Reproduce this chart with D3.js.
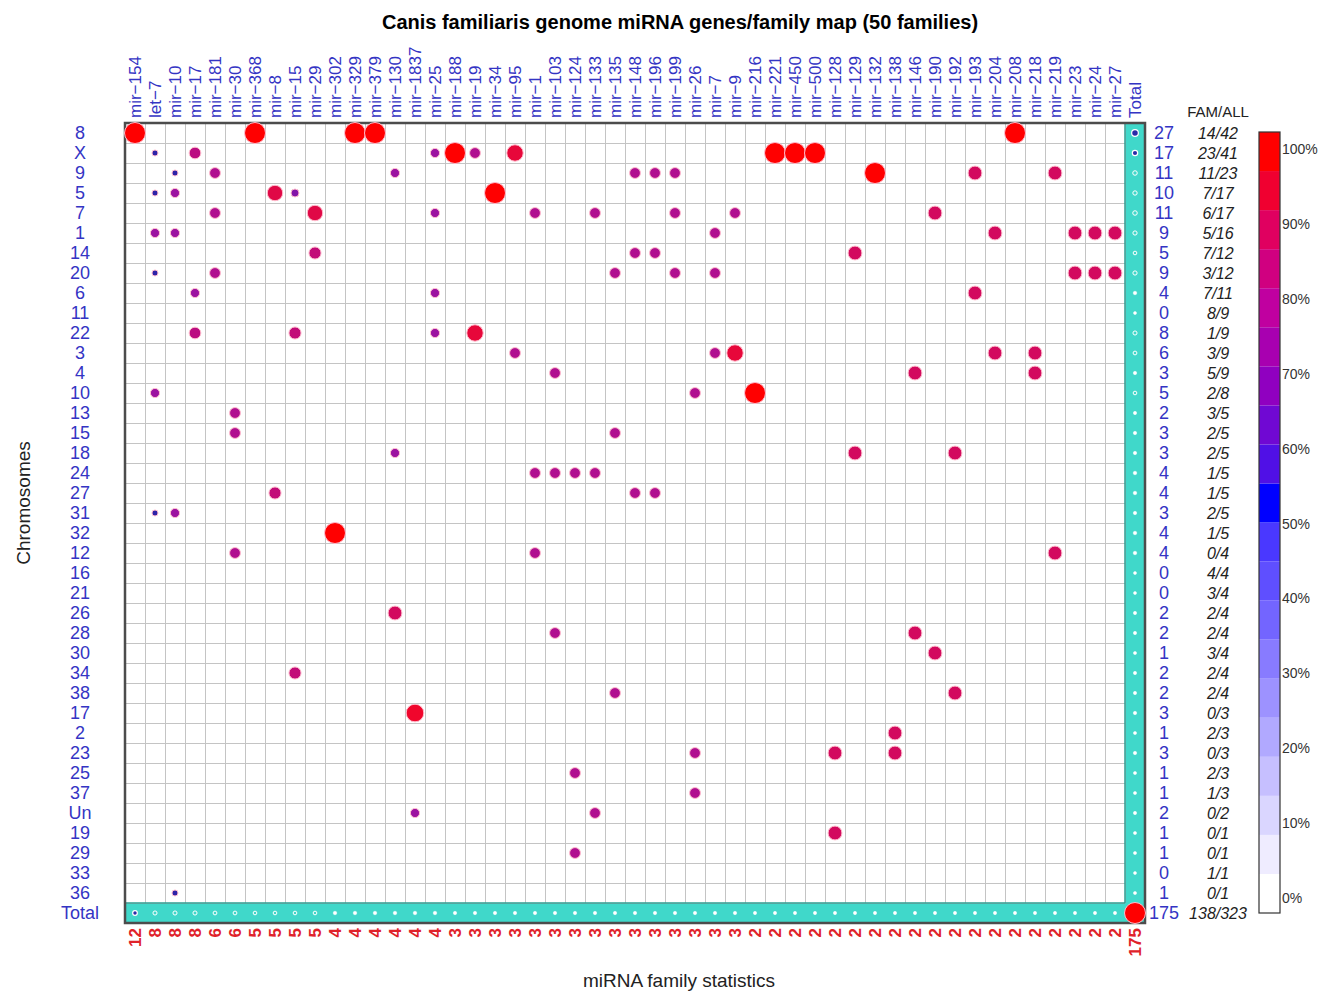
<!DOCTYPE html>
<html>
<head>
<meta charset="utf-8">
<script src="https://cdn.jsdelivr.net/npm/d3@7"></script>
<style>
  body { margin: 0; background: #fff; }
  svg { font-family: "Liberation Sans", Arial, Helvetica, sans-serif; }
</style>
</head>
<body>
<svg id="map" width="1320" height="991"></svg>
<script>
const families = ["mir-154","let-7","mir-10","mir-17","mir-181","mir-30","mir-368","mir-8","mir-15","mir-29",
  "mir-302","mir-329","mir-379","mir-130","mir-1837","mir-25","mir-188","mir-19","mir-34","mir-95",
  "mir-1","mir-103","mir-124","mir-133","mir-135","mir-148","mir-196","mir-199","mir-26","mir-7",
  "mir-9","mir-216","mir-221","mir-450","mir-500","mir-128","mir-129","mir-132","mir-138","mir-146",
  "mir-190","mir-192","mir-193","mir-204","mir-208","mir-218","mir-219","mir-23","mir-24","mir-27"];
const familyTotals = [12,8,8,8,6,6,5,5,5,5, 4,4,4,4,4,4,3,3,3,3, 3,3,3,3,3,3,3,3,3,3,
  3,2,2,2,2,2,2,2,2,2, 2,2,2,2,2,2,2,2,2,2];

const chromosomes = ["8","X","9","5","7","1","14","20","6","11","22","3","4","10","13","15","18","24","27","31",
  "32","12","16","21","26","28","30","34","38","17","2","23","25","37","Un","19","29","33","36"];
const chromTotals = [27,17,11,10,11,9,5,9,4,0, 8,6,3,5,2,3,3,4,4,3, 4,4,0,0,2,2,1,2,2,3, 1,3,1,1,2,1,1,0,1];
const famAll = ["14/42","23/41","11/23","7/17","6/17","5/16","7/12","3/12","7/11","8/9",
  "1/9","3/9","5/9","2/8","3/5","2/5","2/5","1/5","1/5","2/5",
  "1/5","0/4","4/4","3/4","2/4","2/4","3/4","2/4","2/4","0/3",
  "2/3","0/3","2/3","1/3","0/2","0/1","0/1","1/1","0/1"];
const grandTotal = 175;
const grandFamAll = "138/323";

// [chromosome, family, genes]
const geneCounts = [
  ["8","mir-154",12],["8","mir-368",5],["8","mir-329",4],["8","mir-379",4],["8","mir-208",2],
  ["X","let-7",1],["X","mir-17",3],["X","mir-25",1],["X","mir-188",3],["X","mir-19",1],["X","mir-95",2],
  ["X","mir-221",2],["X","mir-450",2],["X","mir-500",2],
  ["9","mir-10",1],["9","mir-181",2],["9","mir-130",1],["9","mir-148",1],["9","mir-196",1],["9","mir-199",1],
  ["9","mir-132",2],["9","mir-193",1],["9","mir-219",1],
  ["5","let-7",1],["5","mir-10",2],["5","mir-8",3],["5","mir-15",1],["5","mir-34",3],
  ["7","mir-181",2],["7","mir-29",3],["7","mir-25",1],["7","mir-1",1],["7","mir-133",1],["7","mir-199",1],
  ["7","mir-9",1],["7","mir-190",1],
  ["1","let-7",2],["1","mir-10",2],["1","mir-7",1],["1","mir-204",1],["1","mir-23",1],["1","mir-24",1],["1","mir-27",1],
  ["14","mir-29",2],["14","mir-148",1],["14","mir-196",1],["14","mir-129",1],
  ["20","let-7",1],["20","mir-181",2],["20","mir-135",1],["20","mir-199",1],["20","mir-7",1],
  ["20","mir-23",1],["20","mir-24",1],["20","mir-27",1],
  ["6","mir-17",2],["6","mir-25",1],["6","mir-193",1],
  ["22","mir-17",3],["22","mir-15",2],["22","mir-25",1],["22","mir-19",2],
  ["3","mir-95",1],["3","mir-7",1],["3","mir-9",2],["3","mir-204",1],["3","mir-218",1],
  ["4","mir-103",1],["4","mir-146",1],["4","mir-218",1],
  ["10","let-7",2],["10","mir-26",1],["10","mir-216",2],
  ["13","mir-30",2],
  ["15","mir-30",2],["15","mir-135",1],
  ["18","mir-130",1],["18","mir-129",1],["18","mir-192",1],
  ["24","mir-1",1],["24","mir-103",1],["24","mir-124",1],["24","mir-133",1],
  ["27","mir-8",2],["27","mir-148",1],["27","mir-196",1],
  ["31","let-7",1],["31","mir-10",2],
  ["32","mir-302",4],
  ["12","mir-30",2],["12","mir-1",1],["12","mir-219",1],
  ["26","mir-130",2],
  ["28","mir-103",1],["28","mir-146",1],
  ["30","mir-190",1],
  ["34","mir-15",2],
  ["38","mir-135",1],["38","mir-192",1],
  ["17","mir-1837",3],
  ["2","mir-138",1],
  ["23","mir-26",1],["23","mir-128",1],["23","mir-138",1],
  ["25","mir-124",1],
  ["37","mir-26",1],
  ["Un","mir-1837",1],["Un","mir-133",1],
  ["19","mir-128",1],
  ["29","mir-124",1],
  ["36","mir-10",1]
];

const svg = d3.select("#map");
const labelBlue = "#3434c4";
const teal = "#40d8ca";

const x = d3.scaleBand().domain([...families, "Total"]).range([125, 1145]);
const y = d3.scaleBand().domain([...chromosomes, "Total"]).range([123, 923]);
const bw = x.bandwidth(), bh = y.bandwidth();

const famTotal = new Map(families.map((f, i) => [f, familyTotals[i]]));

const radius = d3.scalePow().exponent(0.6).domain([0, 1]).range([0, 10.5]);
const dotColor = d3.scaleLinear()
  .domain([0.125, 0.2, 0.25, 0.34, 0.4, 0.5, 0.6, 0.75, 1])
  .range(["#2e22a8", "#8214a8", "#9c12a0", "#b20e8e", "#c20c78", "#d20a5e", "#e00846", "#f0062c", "#ff0000"])
  .clamp(true);

// title
svg.append("text")
  .attr("x", 680).attr("y", 29)
  .attr("text-anchor", "middle")
  .attr("font-size", 20).attr("font-weight", "bold")
  .text("Canis familiaris genome miRNA genes/family map (50 families)");

// cells background
svg.append("rect")
  .attr("x", 125).attr("y", 123).attr("width", 1020).attr("height", 800)
  .attr("fill", "#fff");

svg.append("rect")
  .attr("x", x("Total")).attr("y", 123).attr("width", bw).attr("height", 800)
  .attr("fill", teal);
svg.append("rect")
  .attr("x", 125).attr("y", y("Total")).attr("width", 1020).attr("height", bh)
  .attr("fill", teal);

// grid
const grid = svg.append("g").attr("stroke", "#c4c4c4").attr("stroke-width", 1);
x.domain().slice(1).forEach(d => {
  grid.append("line").attr("x1", x(d) + 0.5).attr("x2", x(d) + 0.5).attr("y1", 123).attr("y2", y("Total"));
});
y.domain().slice(1).forEach(d => {
  grid.append("line").attr("y1", y(d) + 0.5).attr("y2", y(d) + 0.5).attr("x1", 125).attr("x2", x("Total"));
});
svg.append("line").attr("x1", x("Total")).attr("x2", x("Total")).attr("y1", 123).attr("y2", y("Total"))
  .attr("stroke", "#2c9c92").attr("stroke-width", 1.5);
svg.append("line").attr("x1", 125).attr("x2", x("Total")).attr("y1", y("Total")).attr("y2", y("Total"))
  .attr("stroke", "#2c9c92").attr("stroke-width", 1.5);
svg.append("rect")
  .attr("x", 125).attr("y", 123).attr("width", 1020).attr("height", 800)
  .attr("fill", "none").attr("stroke", "#4c4c4c").attr("stroke-width", 2.5);

// gene dots
svg.append("g").selectAll("circle")
  .data(geneCounts)
  .join("circle")
  .attr("cx", d => x(d[1]) + bw / 2)
  .attr("cy", d => y(d[0]) + bh / 2)
  .attr("r", d => radius(d[2] / famTotal.get(d[1])))
  .attr("fill", d => dotColor(d[2] / famTotal.get(d[1])))
  .attr("stroke", "#ffbccc").attr("stroke-width", 1);

// total dots
function totalDot(sel) {
  sel.attr("r", d => 1.5 + 12 * d.n / grandTotal)
    .attr("fill", d => d.n >= 12 ? "#2a2aa8" : d.n >= 5 ? "none" : "#fff")
    .attr("stroke", "#fff")
    .attr("stroke-width", d => d.n >= 12 ? 1.2 : d.n >= 5 ? 1 : 0.5);
}
svg.append("g").selectAll("circle")
  .data(chromosomes.map((c, i) => ({ c, n: chromTotals[i] })))
  .join("circle")
  .attr("cx", x("Total") + bw / 2)
  .attr("cy", d => y(d.c) + bh / 2)
  .call(totalDot);
svg.append("g").selectAll("circle")
  .data(families.map((f, i) => ({ f, n: familyTotals[i] })))
  .join("circle")
  .attr("cx", d => x(d.f) + bw / 2)
  .attr("cy", y("Total") + bh / 2)
  .call(totalDot);
svg.append("circle")
  .attr("cx", x("Total") + bw / 2).attr("cy", y("Total") + bh / 2)
  .attr("r", radius(1)).attr("fill", "#ff0000")
  .attr("stroke", "#ffbccc").attr("stroke-width", 1);

// column labels (top)
svg.append("g").selectAll("text")
  .data(x.domain())
  .join("text")
  .attr("transform", d => `translate(${x(d) + bw / 2},118) rotate(-90)`)
  .attr("dominant-baseline", "central")
  .attr("font-size", 17)
  .attr("fill", labelBlue)
  .text(d => d.replace("-", "\u2212"));

// family totals (bottom)
svg.append("g").selectAll("text")
  .data([...familyTotals, grandTotal])
  .join("text")
  .attr("transform", (d, i) => `translate(${x(x.domain()[i]) + bw / 2},928) rotate(-90)`)
  .attr("dominant-baseline", "central")
  .attr("text-anchor", "end")
  .attr("font-size", 17).attr("font-weight", "bold")
  .attr("fill", "#e0222a")
  .text(d => d);

// row labels
svg.append("g").selectAll("text")
  .data(y.domain())
  .join("text")
  .attr("x", 80)
  .attr("y", d => y(d) + bh / 2)
  .attr("dominant-baseline", "central")
  .attr("text-anchor", "middle")
  .attr("font-size", 18)
  .attr("fill", labelBlue)
  .text(d => d);

// chromosome totals (right)
svg.append("g").selectAll("text")
  .data([...chromTotals, grandTotal])
  .join("text")
  .attr("x", 1164)
  .attr("y", (d, i) => y(y.domain()[i]) + bh / 2)
  .attr("dominant-baseline", "central")
  .attr("text-anchor", "middle")
  .attr("font-size", 18)
  .attr("fill", labelBlue)
  .text(d => d);

// FAM/ALL
svg.append("text")
  .attr("x", 1218).attr("y", 117)
  .attr("text-anchor", "middle")
  .attr("font-size", 15).attr("fill", "#222")
  .text("FAM/ALL");
svg.append("g").selectAll("text")
  .data([...famAll, grandFamAll])
  .join("text")
  .attr("x", 1218)
  .attr("y", (d, i) => y(y.domain()[i]) + bh / 2)
  .attr("dominant-baseline", "central")
  .attr("text-anchor", "middle")
  .attr("font-size", 16).attr("font-style", "italic")
  .attr("fill", "#222")
  .text(d => d);

// axis titles
svg.append("text")
  .attr("x", 679).attr("y", 987)
  .attr("text-anchor", "middle")
  .attr("font-size", 19).attr("fill", "#222")
  .text("miRNA family statistics");
svg.append("text")
  .attr("transform", "translate(30,503) rotate(-90)")
  .attr("text-anchor", "middle")
  .attr("font-size", 19).attr("fill", "#222")
  .text("Chromosomes");

// colour legend
const legendColor = d3.scaleLinear()
  .domain([0, 0.05, 0.45, 0.5, 0.55, 0.65, 0.75, 0.85, 0.95])
  .range(["#ffffff", "#efecff", "#4a38ff", "#0000ff", "#5010e6", "#9000c0", "#c000a0", "#e00060", "#ff0000"]);
const legendY = d3.scaleLinear().domain([0, 1]).range([913, 132]);
const steps = d3.range(20).map(i => i * 0.05);
svg.append("g").selectAll("rect")
  .data(steps)
  .join("rect")
  .attr("x", 1259)
  .attr("y", d => legendY(d + 0.05))
  .attr("width", 21)
  .attr("height", d => legendY(d) - legendY(d + 0.05))
  .attr("fill", d => legendColor(d));
svg.append("rect")
  .attr("x", 1259).attr("y", 132).attr("width", 21).attr("height", 781)
  .attr("fill", "none").attr("stroke", "#333").attr("stroke-width", 1.2);
const labelY = d3.scaleLinear().domain([0, 1]).range([898, 149]);
svg.append("g").selectAll("text")
  .data(d3.range(0, 11).map(i => i / 10))
  .join("text")
  .attr("x", 1282)
  .attr("y", d => labelY(d))
  .attr("dominant-baseline", "central")
  .attr("font-size", 14).attr("fill", "#333")
  .text(d => Math.round(d * 100) + "%");
</script>
</body>
</html>
